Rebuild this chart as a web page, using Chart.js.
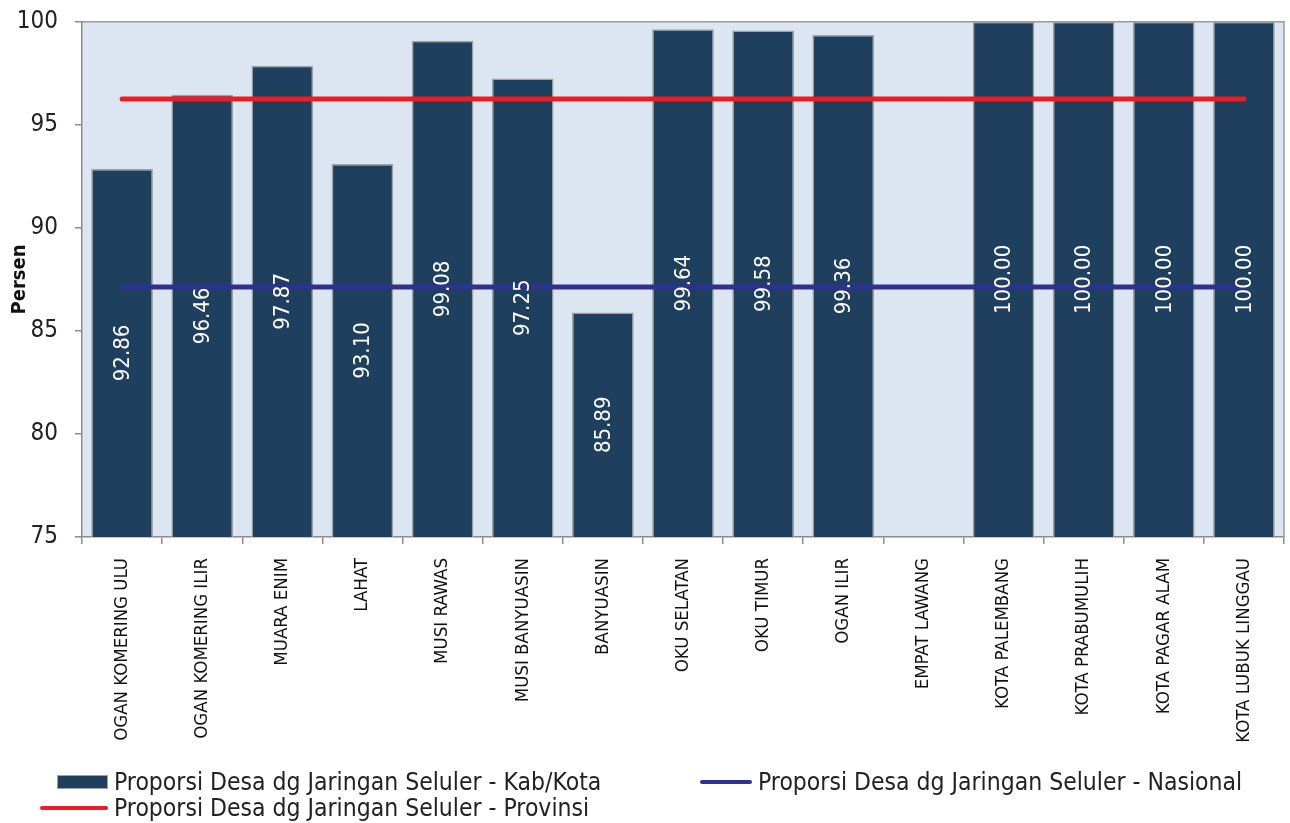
<!DOCTYPE html>
<html>
<head>
<meta charset="utf-8">
<script src="https://cdn.jsdelivr.net/npm/chart.js@4/dist/chart.umd.min.js"></script>
<style>
  body { margin: 0; background: #fff; }
  #wrap { position: relative; width: 1290px; height: 823px; }
  #legend { position: absolute; left: 0; top: 0; width: 1290px; height: 823px; pointer-events: none;
            font-family: "DejaVu Sans Condensed", "DejaVu Sans", sans-serif; font-size: 24.5px; color: #222; }
  .item { position: absolute; white-space: nowrap; line-height: 26px; }
  .sw { position: absolute; }
</style>
</head>
<body>
<div id="wrap">
  <canvas id="chart" width="1290" height="823"></canvas>
  <div id="legend"></div>
</div>
<script>
// Data
const kabKota = ['OGAN KOMERING ULU', 'OGAN KOMERING ILIR', 'MUARA ENIM', 'LAHAT', 'MUSI RAWAS',
  'MUSI BANYUASIN', 'BANYUASIN', 'OKU SELATAN', 'OKU TIMUR', 'OGAN ILIR', 'EMPAT LAWANG',
  'KOTA PALEMBANG', 'KOTA PRABUMULIH', 'KOTA PAGAR ALAM', 'KOTA LUBUK LINGGAU'];
const nilaiKabKota = [92.86, 96.46, 97.87, 93.10, 99.08, 97.25, 85.89, 99.64, 99.58, 99.36, null,
  100.00, 100.00, 100.00, 100.00];
const nilaiProvinsi = 96.25;
const nilaiNasional = 87.13;
const yTicks = [75, 80, 85, 90, 95, 100];

const labelKab = 'Proporsi Desa dg Jaringan Seluler - Kab/Kota';
const labelNas = 'Proporsi Desa dg Jaringan Seluler - Nasional';
const labelProv = 'Proporsi Desa dg Jaringan Seluler - Provinsi';

const FONT = '"DejaVu Sans Condensed", "DejaVu Sans", sans-serif';

// fond de la zone de tracé + cadre
const fondPlot = {
  id: 'fondPlot',
  beforeDraw(chart) {
    const { ctx, chartArea: a } = chart;
    ctx.save();
    ctx.fillStyle = '#dce6f2';
    ctx.fillRect(a.left, a.top, a.right - a.left, a.bottom - a.top);
    ctx.strokeStyle = '#9a9a9a';
    ctx.lineWidth = 1.5;
    ctx.beginPath();
    ctx.moveTo(a.left, a.top);
    ctx.lineTo(a.right, a.top);
    ctx.lineTo(a.right, a.bottom);
    ctx.stroke();
    ctx.restore();
  }
};

// étiquettes des barres, verticales, en blanc, au milieu de la barre
const etiquettes = {
  id: 'etiquettes',
  afterDraw(chart) {
    const c = chart.ctx;
    const sx = chart.scales.x, sy = chart.scales.y;
    const base = sy.getPixelForValue(75);
    c.save();
    c.fillStyle = '#ffffff';
    c.font = '22px ' + FONT;
    c.textAlign = 'center';
    c.textBaseline = 'middle';
    nilaiKabKota.forEach((v, i) => {
      if (v == null) return;
      const x = sx.getPixelForValue(i);
      const y = sy.getPixelForValue(v);
      c.save();
      c.translate(x + 1, (y + base) / 2);
      c.rotate(-Math.PI / 2);
      c.fillText(v.toFixed(2), 0, 0);
      c.restore();
    });
    c.restore();
  }
};

const ctx = document.getElementById('chart').getContext('2d');
const myChart = new Chart(ctx, {
  data: {
    labels: kabKota,
    datasets: [
      {
        type: 'line', label: labelProv,
        data: kabKota.map(() => nilaiProvinsi),
        borderColor: '#ed1c24', borderWidth: 5, borderCapStyle: 'round',
        pointRadius: 0, order: 0
      },
      {
        type: 'line', label: labelNas,
        data: kabKota.map(() => nilaiNasional),
        borderColor: '#2e3192', borderWidth: 5, borderCapStyle: 'round',
        pointRadius: 0, order: 1
      },
      {
        type: 'bar', label: labelKab,
        data: nilaiKabKota,
        backgroundColor: '#1f3f5f', borderColor: '#a0a0a0', borderWidth: 1.5,
        categoryPercentage: 1, barPercentage: 0.77, order: 2
      }
    ]
  },
  options: {
    responsive: false,
    animation: false,
    layout: { padding: { top: 21, right: 6, left: 0, bottom: 0 } },
    plugins: { legend: { display: false }, tooltip: { enabled: false } },
    scales: {
      x: {
        offset: true,
        grid: { offset: true, drawOnChartArea: false, drawTicks: true, tickLength: 7, color: '#8c8c8c', lineWidth: 1.5 },
        border: { color: '#8c8c8c', width: 1.5 },
        ticks: { autoSkip: false, maxRotation: 90, minRotation: 90, padding: 14, color: '#111',
                 font: { family: FONT, size: 18.5 } },
        afterFit(scale) { scale.height = 823 - 537; }
      },
      y: {
        min: 75, max: 100,
        afterBuildTicks(scale) { scale.ticks = yTicks.map(v => ({ value: v })); },
        grid: { drawOnChartArea: false, drawTicks: true, tickLength: 7, color: '#8c8c8c', lineWidth: 1.5 },
        border: { color: '#8c8c8c', width: 1.5 },
        ticks: { padding: 17, color: '#222', font: { family: FONT, size: 24, lineHeight: 0.4 } },
        title: { display: true, text: 'Persen', color: '#111', padding: { top: 8, bottom: 0 },
                 font: { family: FONT, size: 20, weight: 'bold' } },
        afterFit(scale) { scale.width = 82; }
      }
    }
  },
  plugins: [fondPlot, etiquettes]
});

// recale le haut de la zone de tracé sur y = 21
const decal = myChart.chartArea.top - 21;
if (Math.abs(decal) > 0.5) {
  myChart.options.layout.padding.top = Math.max(0, 21 - decal);
  myChart.update();
}

// légende façon Excel
const legend = document.getElementById('legend');
const items = [
  { text: labelKab, x: 57, y: 769, sw: 'box', color: '#1f3f5f', w: 51 },
  { text: labelNas, x: 700, y: 769, sw: 'line', color: '#2e3192', w: 52 },
  { text: labelProv, x: 40, y: 795, sw: 'line', color: '#ed1c24', w: 68 }
];
items.forEach(it => {
  const sw = document.createElement('div');
  sw.className = 'sw';
  if (it.sw === 'box') {
    sw.style.cssText = `left:${it.x}px;top:${it.y + 6}px;width:${it.w}px;height:14px;background:${it.color};border:1.5px solid #a0a0a0;box-sizing:border-box;`;
  } else {
    sw.style.cssText = `left:${it.x}px;top:${it.y + 11}px;width:${it.w}px;height:4px;background:${it.color};border-radius:2px;`;
  }
  legend.appendChild(sw);
  const t = document.createElement('div');
  t.className = 'item';
  t.style.left = (it.x + it.w + 6) + 'px';
  t.style.top = it.y + 'px';
  t.textContent = it.text;
  legend.appendChild(t);
});
</script>
</body>
</html>
